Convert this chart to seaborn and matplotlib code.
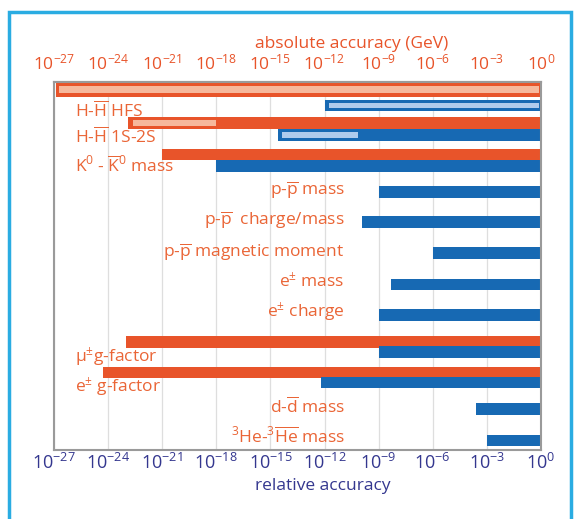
import matplotlib
matplotlib.use("Agg")
import pandas as pd
import matplotlib.pyplot as plt
from matplotlib.patches import Rectangle
import seaborn as sns

# Bars: each one runs from 10^start up to 10^0 (values are log10 exponents)
bar_kind = ["absolute", "relative", "absolute", "relative", "absolute", "relative",
            "relative", "relative", "relative", "relative", "relative",
            "absolute", "relative", "absolute", "relative", "relative", "relative"]
bar_start = [-26.9, -12.0, -22.9, -14.6, -21.0, -18.0,
             -9.0, -9.9, -6.0, -8.3, -9.0,
             -23.0, -9.0, -24.3, -12.2, -3.6, -3.0]

# Lighter inner segments (projected accuracy): kind, from, to
goal_kind = ["absolute", "relative", "absolute", "relative"]
goal_from = [-26.75, -11.75, -22.6, -14.35]
goal_to = [-0.12, -0.12, -18.0, -10.15]

labels = [r"H-$\overline{\mathrm{H}}$ HFS",
          r"H-$\overline{\mathrm{H}}$ 1S-2S",
          r"K$^0$ - $\overline{\mathrm{K}}^0$ mass",
          r"p-$\overline{\mathrm{p}}$ mass",
          r"p-$\overline{\mathrm{p}}$  charge/mass",
          r"p-$\overline{\mathrm{p}}$ magnetic moment",
          r"e$^{\pm}$ mass",
          r"e$^{\pm}$ charge",
          r"μ$^{\pm}$g-factor",
          r"e$^{\pm}$ g-factor",
          r"d-$\overline{\mathrm{d}}$ mass",
          r"$^3$He-$^3\overline{\mathrm{He}}$ mass"]

tick_exp = [-27, -24, -21, -18, -15, -12, -9, -6, -3, 0]

# Layout (vertical positions in pixel-like units from the top)
BAR_Y = [89.5, 105.5, 123, 135, 154.5, 166, 192, 222, 253, 284.5, 315,
         342, 352, 372.5, 382.5, 409, 440.5]
GOAL_Y = [89.5, 105.5, 123, 135]
LABEL_Y = [117, 143, 172, 195, 225, 257, 287, 317, 362, 392, 413, 443]
LABEL_SIDE = ["left", "left", "left", "right", "right", "right", "right", "right",
              "left", "left", "right", "right"]

ORANGE = "#E8542A"
BLUE = "#1769B3"
LIGHT_ORANGE = "#F6B89C"
LIGHT_BLUE = "#AFCBEC"
LABEL_ORANGE = "#EA6536"
NAVY = "#34378F"

sns.set_style("white")
plt.rcParams["font.family"] = ["Open Sans", "DejaVu Sans"]
plt.rcParams["mathtext.fontset"] = "custom"
plt.rcParams["mathtext.rm"] = "Open Sans"
plt.rcParams["mathtext.it"] = "Open Sans:italic"
plt.rcParams["mathtext.bf"] = "Open Sans:bold"
plt.rcParams["axes.unicode_minus"] = False

fig = plt.figure(figsize=(5.79, 5.19), dpi=100)
ax = fig.add_axes([54 / 579, 1 - 450 / 519, 487 / 579, 368 / 519])

df = pd.DataFrame({"start": bar_start, "kind": bar_kind, "row": BAR_Y})
sns.barplot(data=df, x="start", y="row", hue="kind", orient="y",
            hue_order=["absolute", "relative"],
            palette={"absolute": ORANGE, "relative": BLUE},
            native_scale=True, dodge=False, width=1.15, saturation=1,
            errorbar=None, legend=False, linewidth=0, ax=ax)

# top bar is a bit thicker
for p in ax.patches:
    yc = p.get_y() + p.get_height() / 2
    if abs(yc - BAR_Y[0]) < 1:
        p.set_y(BAR_Y[0] - 7.5)
        p.set_height(15)

goal_colors = [LIGHT_ORANGE if k == "absolute" else LIGHT_BLUE for k in goal_kind]
ax.barh(GOAL_Y, [b - a for a, b in zip(goal_from, goal_to)], left=goal_from,
        height=[7, 5.5, 5.5, 5.5], color=goal_colors, linewidth=0, zorder=3)

for lab, y, side in zip(labels, LABEL_Y, LABEL_SIDE):
    if side == "left":
        ax.text(-25.85, y, lab, ha="left", va="baseline", color=LABEL_ORANGE,
                fontsize=12.5, zorder=4)
    else:
        ax.text(-10.9, y, lab, ha="right", va="baseline", color=LABEL_ORANGE,
                fontsize=12.5, zorder=4)

ax.set_xlim(-27, 0)
ax.set_ylim(450, 82)
ax.set_yticks([])
ax.set_ylabel("")
ax.set_xticks(tick_exp)
ax.set_xticklabels([rf"$10^{{{e}}}$" for e in tick_exp], color=NAVY, fontsize=13)
ax.tick_params(axis="x", length=0, pad=2)
ax.set_xlabel("relative accuracy", color=NAVY, fontsize=12.5, labelpad=4, x=0.552)
ax.set_axisbelow(True)
ax.xaxis.grid(True, color="#dedede", linewidth=0.9)
for s in ax.spines.values():
    s.set_color("#9a9a9a")
    s.set_linewidth(1.5)

top = ax.secondary_xaxis("top")
top.set_xticks(tick_exp)
top.set_xticklabels([rf"$10^{{{e}}}$" for e in tick_exp], color=ORANGE, fontsize=12.5)
top.tick_params(axis="x", length=0, pad=6)
top.set_xlabel("absolute accuracy (GeV)", color=ORANGE, fontsize=12.5, labelpad=4, x=0.612)
top.spines["top"].set_color("#9a9a9a")
top.spines["top"].set_linewidth(1.5)

fig.add_artist(Rectangle((9 / 579, -0.05), 562 / 579, (519 - 12) / 519 + 0.05,
                         transform=fig.transFigure, fill=False,
                         edgecolor="#2AACE2", linewidth=2.5))

fig.savefig("out.png", dpi=100)
